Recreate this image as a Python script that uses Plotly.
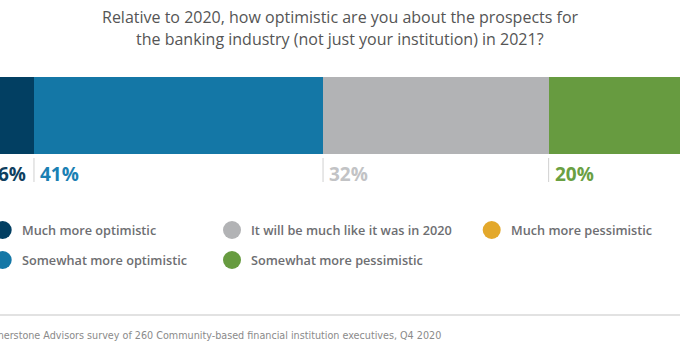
import plotly.graph_objects as go

# ---- data ----
categories = ["Much more optimistic", "Somewhat more optimistic",
              "It will be much like it was in 2020", "Somewhat more pessimistic",
              "Much more pessimistic"]
values = [6, 41, 32, 20, 1]
value_labels = ["6%", "41%", "32%", "20%", "1%"]
bar_colors = ["#023f62", "#1477a6", "#b2b3b5", "#679b40", "#e3a82b"]
label_colors = ["#0f3f60", "#1a80b3", "#c2c3c5", "#6aa042", "#e3a82b"]
title_lines = ["Relative to 2020, how optimistic are you about the prospects for",
               "the banking industry (not just your institution) in 2021?"]
source_text = "Source: Cornerstone Advisors survey of 260 Community-based financial institution executives, Q4 2020"

W, H = 680, 350
XR = [1.18, 97.63]

def px_x(p):
    return p / W

def px_y(p):
    return 1 - p / H

def data_to_paper(v):
    return (v - XR[0]) / (XR[1] - XR[0])

fig = go.Figure()
for cat, v, c in zip(categories, values, bar_colors):
    fig.add_trace(go.Bar(
        y=["Q"], x=[v], orientation="h", name=cat,
        marker=dict(color=c, line=dict(width=0)),
        width=1, showlegend=False, hoverinfo="name+x"))

annotations = []
shapes = []

# value labels and separator ticks below each segment (only those inside the view)
start = 0
for v, lab, lc in zip(values, value_labels, label_colors):
    if data_to_paper(start) < 0.95:
        shapes.append(dict(type="line", xref="x", yref="paper", x0=start, x1=start,
                           y0=px_y(158), y1=px_y(182),
                           line=dict(color="#d0d0d0", width=1)))
        annotations.append(dict(x=data_to_paper(start), y=px_y(174), xref="paper", yref="paper",
                                text=f"<b>{lab}</b>", showarrow=False,
                                xanchor="left", yanchor="middle", xshift=4,
                                font=dict(family="Open Sans", size=19, color=lc)))
    start += v

# title
for line, ypx in zip(title_lines, [17, 39]):
    annotations.append(dict(x=0.5, y=px_y(ypx), xref="paper", yref="paper",
                            text=line, showarrow=False, xanchor="center",
                            yanchor="middle",
                            font=dict(family="Open Sans", size=16, color="#555555")))

# legend (column-major, 3 columns x 2 rows)
leg_cols = [2.7, 232, 491.7]
leg_rows = [230, 260]
r = 9
for i, (cat, c) in enumerate(zip(categories, bar_colors)):
    cx = leg_cols[i // 2]
    cy = leg_rows[i % 2]
    shapes.append(dict(type="circle", xref="paper", yref="paper",
                       x0=px_x(cx - r), x1=px_x(cx + r),
                       y0=px_y(cy + r), y1=px_y(cy - r),
                       fillcolor=c, line=dict(width=0)))
    annotations.append(dict(x=px_x(cx + 17), y=px_y(cy), xref="paper", yref="paper",
                            text=cat, showarrow=False, xanchor="left",
                            yanchor="middle",
                            font=dict(family="Open Sans", size=12.7, color="#6d6e71",
                                      weight=600)))

# footer rule and source
shapes.append(dict(type="line", xref="paper", yref="paper", x0=0, x1=1,
                   y0=px_y(315), y1=px_y(315), line=dict(color="#d9d9d9", width=1.5)))
annotations.append(dict(x=px_x(443), y=px_y(335.5), xref="paper", yref="paper",
                        text=source_text, showarrow=False, xanchor="right",
                        yanchor="middle",
                        font=dict(family="DejaVu Sans Condensed", size=10.7, color="#8a8a8a")))

fig.update_layout(
    width=W, height=H, autosize=False,
    margin=dict(l=0, r=0, t=0, b=0),
    barmode="stack", bargap=0,
    paper_bgcolor="white", plot_bgcolor="white",
    xaxis=dict(range=XR, visible=False, fixedrange=True),
    yaxis=dict(range=[-0.5, 0.5], domain=[1 - 154 / H, 1 - 77 / H],
               visible=False, fixedrange=True),
    annotations=annotations, shapes=shapes,
    showlegend=False,
)

fig.write_html("out.html", config={"displayModeBar": False})
